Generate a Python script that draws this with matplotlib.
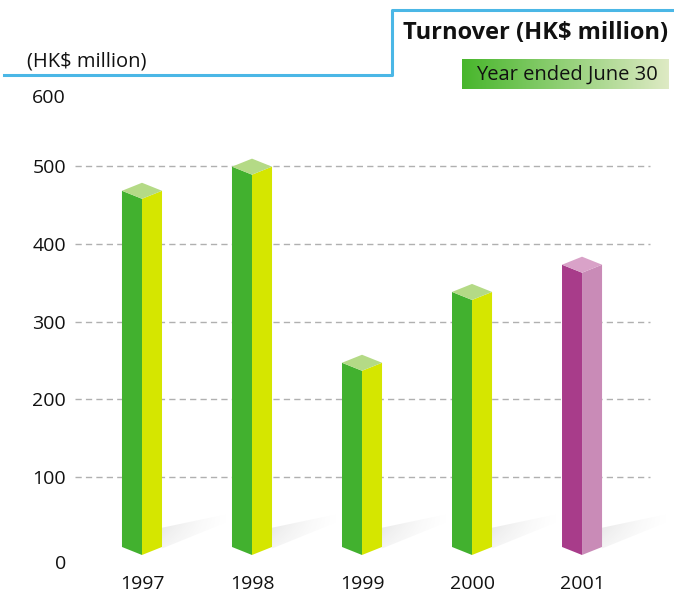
import numpy as np
import matplotlib.pyplot as plt
import matplotlib.transforms as mtransforms
from matplotlib.patches import Polygon
from matplotlib.lines import Line2D

# data
years = ['1997', '1998', '1999', '2000', '2001']
turnover = [468, 499, 247, 338, 373]
left_colors = ['#42b12f', '#42b12f', '#42b12f', '#42b12f', '#a83c8a']
right_colors = ['#d5e600', '#d5e600', '#d5e600', '#d5e600', '#c98bb7']
top_colors = ['#b4da86', '#b4da86', '#b4da86', '#b4da86', '#d9a2c8']
y_ticks = [0, 100, 200, 300, 400, 500, 600]
grid_vals = [100, 200, 300, 400, 500]

plt.rcParams['font.family'] = ['Open Sans', 'DejaVu Sans']

W, H = 674, 593
fig = plt.figure(figsize=(W / 100, H / 100), dpi=100)
ax = fig.add_axes([75 / W, 23 / H, 599 / W, 500 / H])
x0, x1 = -0.609, 4.836
ax.set_xlim(x0, x1)
ax.set_ylim(-19.3, 623.2)
for s in ax.spines.values():
    s.set_visible(False)

# gridlines stop short of the right edge
ax.hlines(grid_vals, x0, 4.618, colors='#b0b0b0', linewidth=1,
          linestyles=(0, (4.5, 3)), zorder=1)

hw = 0.182   # half width of a bar
dp = 10.3    # isometric depth in data units

# shadow gradient image
grad = np.zeros((20, 60, 4))
u = np.linspace(0, 1, 60)[None, :]
vv = np.linspace(0, 1, 20)[:, None]
grad[..., :3] = 0.55
grad[..., 3] = 0.24 * (1 - u) ** 1.7 * (0.4 + 0.6 * (1 - vv))

for i, v in enumerate(turnover):
    # shadow on the floor
    sh = [(i + hw, dp - 2), (i + hw, 35), (i + hw + 0.64, 54), (i + hw + 0.64, 45)]
    patch = Polygon(sh, closed=True, facecolor='none', edgecolor='none')
    ax.add_patch(patch)
    im = ax.imshow(grad, extent=(i + hw, i + hw + 0.64, dp - 2, 54),
                   origin='upper', aspect='auto', zorder=1.5)
    im.set_clip_path(patch)

    left = [(i - hw, dp), (i, 0), (i, v - dp), (i - hw, v)]
    right = [(i, 0), (i + hw, dp), (i + hw, v), (i, v - dp)]
    top = [(i - hw, v), (i, v - dp), (i + hw, v), (i, v + dp)]
    ax.add_patch(Polygon(left, closed=True, facecolor=left_colors[i],
                         edgecolor='none', zorder=3))
    ax.add_patch(Polygon(right, closed=True, facecolor=right_colors[i],
                         edgecolor='none', zorder=3))
    ax.add_patch(Polygon(top, closed=True, facecolor=top_colors[i],
                         edgecolor='none', zorder=3))

ax.set_yticks(y_ticks)
ax.set_yticklabels([str(t) for t in y_ticks], fontsize=14, color='#111111')
ax.set_xticks(range(len(years)))
ax.set_xticklabels(years, fontsize=14, color='#111111')
ax.tick_params(length=0)
ax.tick_params(axis='y', pad=6.5)
ax.tick_params(axis='x', pad=3.5)

# the 0 and 600 labels sit a little lower in the original
ylabs = ax.get_yticklabels()
for lab, shift in [(ylabs[0], 7), (ylabs[-1], 8)]:
    off = mtransforms.ScaledTranslation(0, -shift / 100, fig.dpi_scale_trans)
    lab.set_transform(lab.get_transform() + off)

# header
blue = '#4bb7e6'
xs = np.array([4, 392, 392, 674]) / W
ys = 1 - np.array([75, 75, 10, 10]) / H
fig.add_artist(Line2D(xs, ys, color=blue, linewidth=2.2, transform=fig.transFigure))
fig.text(27 / W, 1 - 62 / H, '(HK$ million)', fontsize=14.5, color='#111111',
         ha='left', va='center')
fig.text(668 / W, 1 - 33 / H, 'Turnover (HK$ million)', fontsize=17,
         fontweight='bold', color='#111111', ha='right', va='center')

# legend box with gradient
lax = fig.add_axes([462 / W, 1 - 89 / H, 207 / W, 30 / H])
c0 = np.array([0x48, 0xb6, 0x2c]) / 255
c1 = np.array([0xde, 0xea, 0xc4]) / 255
t = np.linspace(0, 1, 200)[:, None]
row = c0 + (c1 - c0) * t
lax.imshow(row[None, :, :], aspect='auto', extent=(0, 1, 0, 1))
lax.set_axis_off()
lax.text(0.505, 0.47, 'Year ended June 30', fontsize=14.5, color='#111111',
         ha='center', va='center', transform=lax.transAxes)

fig.savefig('out.png', dpi=100)
